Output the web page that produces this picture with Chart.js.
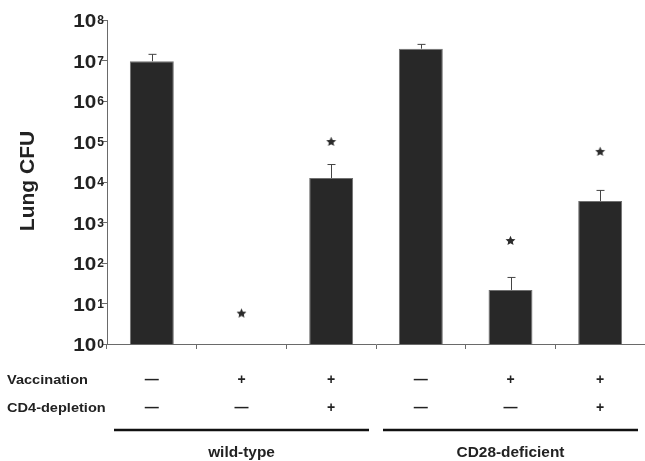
<!DOCTYPE html>
<html>
<head>
<meta charset="utf-8">
<script src="https://cdn.jsdelivr.net/npm/chart.js@4"></script>
<style>
  html, body { margin: 0; padding: 0; background: #fff; }
  #wrap { width: 645px; height: 461px; }
</style>
</head>
<body>
<div id="wrap"><canvas id="chart" width="645" height="461"></canvas></div>
<script>
// data
const categories = ["wt-ctrl", "wt-vacc", "wt-vacc-cd4", "cd28-ctrl", "cd28-vacc", "cd28-vacc-cd4"];
const vaccination = ["\u2014", "+", "+", "\u2014", "+", "+"];
const cd4Depletion = ["\u2014", "\u2014", "+", "\u2014", "\u2014", "+"];
const cfuMean = [9.6e6, null, 1.25e4, 1.96e7, 21.6, 3.4e3];
const cfuErrTop = [1.42e7, null, 2.7e4, 2.5e7, 44, 6.2e3];
const starLevel = [null, 5.8, 1.0e5, null, 360, 5.7e4];
const yTicks = [1, 10, 1e2, 1e3, 1e4, 1e5, 1e6, 1e7, 1e8];
const groupLabels = ["wild-type", "CD28-deficient"];
const groupRanges = [[0, 2], [3, 5]];

const FONT = "'Liberation Sans', Arial, Helvetica, sans-serif";
const AXIS = "#6a6a6a";
const TEXT = "#222";

// little filled star used as point style
function makeStar() {
    let c = document.createElement("canvas");
    c.width = 11; c.height = 11;
    let g = c.getContext("2d");
    g.fillStyle = "#2b2b2b";
    g.beginPath();
    for (let i = 0; i < 10; i++) {
        let r = i % 2 === 0 ? 5.2 : 2.4;
        let a = -Math.PI / 2 + i * Math.PI / 5;
        let px = 5.5 + r * Math.cos(a), py = 5.9 + r * Math.sin(a);
        if (i === 0) g.moveTo(px, py); else g.lineTo(px, py);
    }
    g.closePath();
    g.fill();
    return c;
}

const extras = {
    id: "extras",
    afterDatasetsDraw(chart) {
        let ctx = chart.ctx, y = chart.scales.y;
        let bars = chart.getDatasetMeta(0).data;
        ctx.save();
        ctx.strokeStyle = "#444";
        ctx.lineWidth = 1;
        cfuErrTop.forEach((v, i) => {
            if (v == null) return;
            let bx = Math.round(bars[i].x) + 0.5;
            let top = y.getPixelForValue(v);
            ctx.beginPath();
            ctx.moveTo(bx, bars[i].y);
            ctx.lineTo(bx, top);
            ctx.moveTo(bx - 4, top);
            ctx.lineTo(bx + 4, top);
            ctx.stroke();
        });
        ctx.restore();
    },
    afterDraw(chart) {
        let ctx = chart.ctx, x = chart.scales.x, y = chart.scales.y;
        let area = chart.chartArea;
        ctx.save();
        ctx.fillStyle = TEXT;

        // y tick labels 10^n
        yTicks.forEach(v => {
            let py = y.getPixelForValue(v);
            let exp = String(Math.round(Math.log10(v)));
            ctx.font = "bold 12px " + FONT;
            let ew = ctx.measureText(exp).width;
            ctx.textAlign = "right";
            ctx.textBaseline = "top";
            ctx.fillText(exp, area.left - 3, py - 5);
            ctx.font = "bold 18px " + FONT;
            ctx.textBaseline = "middle";
            ctx.save();
            ctx.translate(area.left - 4 - ew, py + 2.5);
            ctx.scale(1.15, 1);
            ctx.fillText("10", 0, 0);
            ctx.restore();
        });

        // y title
        ctx.save();
        ctx.translate(28, 181);
        ctx.rotate(-Math.PI / 2);
        ctx.font = "bold 21px " + FONT;
        ctx.textAlign = "center";
        ctx.textBaseline = "middle";
        ctx.fillText("Lung CFU", 0, 0);
        ctx.restore();

        // treatment rows
        let base = area.bottom;
        ctx.textBaseline = "middle";
        ctx.font = "bold 13px " + FONT;
        ctx.textAlign = "left";
        ctx.save(); ctx.translate(7, base + 36); ctx.scale(1.12, 1); ctx.fillText("Vaccination", 0, 0); ctx.restore();
        ctx.save(); ctx.translate(7, base + 64); ctx.scale(1.12, 1); ctx.fillText("CD4-depletion", 0, 0); ctx.restore();
        ctx.textAlign = "center";
        ctx.font = "bold 14px " + FONT;
        categories.forEach((c, i) => {
            let cx = x.getPixelForValue(i);
            ctx.fillText(vaccination[i], cx, base + 36);
            ctx.fillText(cd4Depletion[i], cx, base + 64);
        });

        // group underlines + labels
        let half = (x.getPixelForValue(1) - x.getPixelForValue(0)) / 2;
        ctx.strokeStyle = "#111";
        ctx.lineWidth = 2.5;
        groupRanges.forEach((r, gi) => {
            let x0 = x.getPixelForValue(r[0]) - half + 7;
            let x1 = Math.min(x.getPixelForValue(r[1]) + half - 7, 640);
            ctx.beginPath();
            ctx.moveTo(x0, base + 86);
            ctx.lineTo(x1, base + 86);
            ctx.stroke();
            ctx.font = "bold 14px " + FONT;
            ctx.save();
            ctx.translate((x0 + x1) / 2, base + 109);
            ctx.scale(1.1, 1);
            ctx.fillText(groupLabels[gi], 0, 0);
            ctx.restore();
        });
        ctx.restore();
    }
};

new Chart(document.getElementById("chart"), {
    type: "bar",
    data: {
        labels: categories,
        datasets: [{
            data: cfuMean,
            backgroundColor: "#282828",
            borderColor: "#707070",
            borderWidth: 1,
            barPercentage: 0.49,
            categoryPercentage: 1
        }, {
            type: "line",
            data: starLevel,
            showLine: false,
            pointStyle: makeStar(),
            spanGaps: false
        }]
    },
    options: {
        responsive: false,
        animation: false,
        layout: { autoPadding: false, padding: { top: 20, left: 0, right: -4, bottom: 0 } },
        plugins: { legend: { display: false }, tooltip: { enabled: false } },
        scales: {
            x: {
                ticks: { display: false },
                grid: { offset: true, drawOnChartArea: false, tickLength: 5, color: AXIS },
                border: { color: AXIS },
                afterFit: s => { s.height = 117; }
            },
            y: {
                type: "logarithmic",
                min: 1,
                max: 1e8,
                ticks: { display: false },
                grid: { drawOnChartArea: false, tickLength: 5, color: AXIS },
                border: { color: AXIS },
                afterBuildTicks: s => { s.ticks = yTicks.map(v => ({ value: v })); },
                afterFit: s => { s.width = 107; }
            }
        }
    },
    plugins: [extras]
});
</script>
</body>
</html>
